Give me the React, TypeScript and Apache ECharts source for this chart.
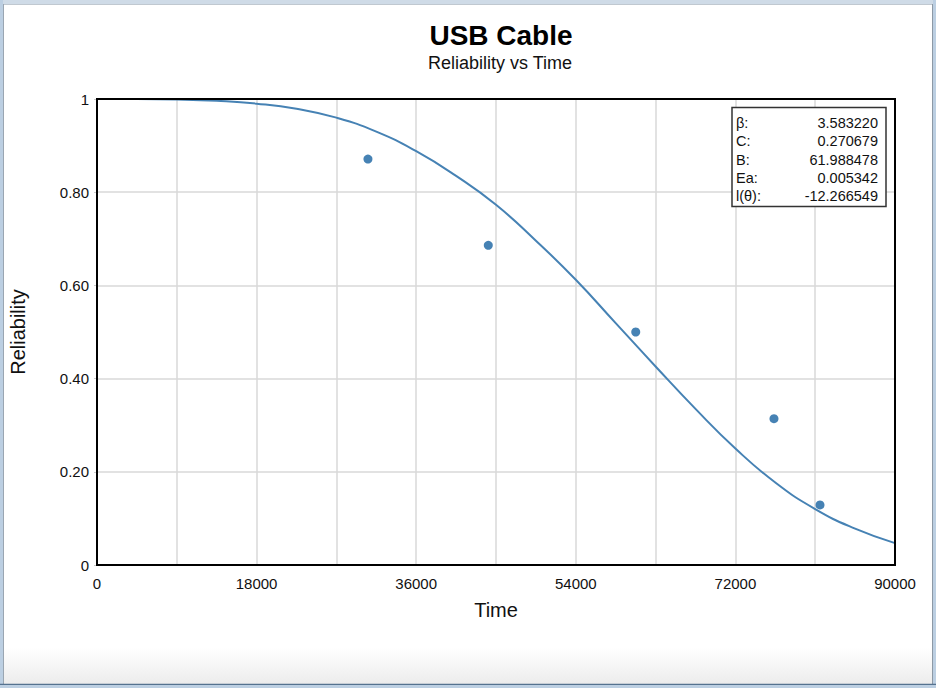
import React, { useEffect, useRef } from 'react';
import * as echarts from 'echarts';

// observed failure points (time, median-rank reliability)
const obsTimes = [30560, 44130, 60760, 76350, 81540];
const obsReliability = [0.871, 0.686, 0.5, 0.314, 0.129];

// fitted reliability curve
const curveTimes = [
  0, 4500, 9000, 13500, 18000, 22500, 27000, 31500, 36000, 40500, 45000,
  49500, 54000, 58500, 63000, 67500, 72000, 76500, 81000, 85500, 90000,
];
const curveReliability = [
  1.0, 1.0, 0.999, 0.996, 0.99, 0.979, 0.96, 0.93, 0.888, 0.835, 0.773,
  0.696, 0.612, 0.519, 0.426, 0.335, 0.25, 0.177, 0.12, 0.078, 0.047,
];

const xTickLabels = ['0', '', '18000', '', '36000', '', '54000', '', '72000', '', '90000'];
const yTickLabels = ['0', '0.20', '0.40', '0.60', '0.80', '1'];

const paramNames = ['β:', 'C:', 'B:', 'Ea:', 'l(θ):'];
const paramValues = ['3.583220', '0.270679', '61.988478', '0.005342', '-12.266549'];

const FONT = '"Liberation Sans", Arial, Helvetica, sans-serif';
const BLUE = '#4682b4';

const App: React.FC = () => {
  const chartRef = useRef<HTMLDivElement>(null);

  useEffect(() => {
    document.body.style.margin = '0';
    if (!chartRef.current) return;
    const chart = echarts.init(chartRef.current, undefined, { renderer: 'svg' });

    const rowY = [123, 141, 159.5, 177.5, 196];
    const legendItems: any[] = [
      {
        type: 'rect',
        shape: { x: 732, y: 107.5, width: 154, height: 99 },
        style: { fill: '#fff', stroke: '#333', lineWidth: 1.5 },
        z: 10,
      },
    ];
    paramNames.forEach((name, i) => {
      legendItems.push({
        type: 'text',
        x: 736,
        y: rowY[i],
        z: 11,
        style: { text: name, font: `14.5px ${FONT}`, fill: '#111', textAlign: 'left', textVerticalAlign: 'middle' },
      });
      legendItems.push({
        type: 'text',
        x: 878,
        y: rowY[i],
        z: 11,
        style: { text: paramValues[i], font: `14.5px ${FONT}`, fill: '#111', textAlign: 'right', textVerticalAlign: 'middle' },
      });
    });

    // black frame round the plot area (drawn over the grid lines)
    const frame: any = {
      type: 'rect',
      shape: { x: 97, y: 99, width: 798, height: 466 },
      style: { fill: 'none', stroke: '#000', lineWidth: 2 },
      z: 9,
      silent: true,
    };

    const chrome: any[] = [
      { type: 'rect', shape: { x: 0, y: 0, width: 936, height: 4 }, style: { fill: '#cfdbe7' }, silent: true },
      { type: 'line', shape: { x1: 0, y1: 4.5, x2: 936, y2: 4.5 }, style: { stroke: '#c0c8d0', lineWidth: 1 }, silent: true },
      { type: 'rect', shape: { x: 0, y: 0, width: 3, height: 688 }, style: { fill: '#bccfe2' }, silent: true },
      { type: 'line', shape: { x1: 3.5, y1: 4, x2: 3.5, y2: 684 }, style: { stroke: '#9aa6b2', lineWidth: 1 }, silent: true },
      { type: 'rect', shape: { x: 933, y: 0, width: 3, height: 688 }, style: { fill: '#bccfe2' }, silent: true },
      { type: 'line', shape: { x1: 932.5, y1: 4, x2: 932.5, y2: 684 }, style: { stroke: '#8d99a5', lineWidth: 1 }, silent: true },
      {
        type: 'rect',
        shape: { x: 4, y: 648, width: 928, height: 36 },
        style: {
          fill: new echarts.graphic.LinearGradient(0, 0, 0, 1, [
            { offset: 0, color: '#ffffff' },
            { offset: 1, color: '#ececec' },
          ]),
        },
        silent: true,
      },
      { type: 'line', shape: { x1: 0, y1: 684.5, x2: 936, y2: 684.5 }, style: { stroke: '#55728f', lineWidth: 1.5 }, silent: true },
      { type: 'rect', shape: { x: 0, y: 685, width: 936, height: 3 }, style: { fill: '#bccfe2' }, silent: true },
    ];

    chart.setOption({
      animation: false,
      backgroundColor: '#fff',
      textStyle: { fontFamily: FONT },
      title: [
        {
          text: 'USB Cable',
          left: 496,
          top: 16,
          textAlign: 'center',
          textStyle: { fontSize: 28, fontWeight: 'bold', color: '#000', fontFamily: FONT },
        },
        {
          text: 'Reliability vs Time',
          left: 495,
          top: 49,
          textAlign: 'center',
          textStyle: { fontSize: 18, fontWeight: 'normal', color: '#111', fontFamily: FONT },
        },
      ],
      grid: {
        left: 97,
        right: 41,
        top: 99,
        bottom: 123,
        show: false,
      },
      xAxis: {
        type: 'value',
        min: 0,
        max: 90000,
        interval: 9000,
        name: 'Time',
        nameLocation: 'middle',
        nameGap: 35,
        nameTextStyle: { fontSize: 20, color: '#111', fontFamily: FONT },
        axisLine: { show: true, lineStyle: { color: '#000', width: 2 } },
        axisTick: { show: false },
        axisLabel: {
          fontSize: 15,
          color: '#111',
          margin: 11,
          formatter: (_v: number, i: number) => xTickLabels[i] ?? '',
        },
        splitLine: { show: true, lineStyle: { color: '#d8d8d8', width: 1.5 } },
      },
      yAxis: {
        type: 'value',
        min: 0,
        max: 1,
        interval: 0.2,
        name: 'Reliability',
        nameLocation: 'middle',
        nameGap: 69,
        nameRotate: 90,
        nameTextStyle: { fontSize: 20, color: '#111', fontFamily: FONT },
        axisLine: { show: true, lineStyle: { color: '#000', width: 2 } },
        axisTick: { show: true, length: 3, lineStyle: { color: '#cccccc' } },
        axisLabel: {
          fontSize: 15,
          color: '#111',
          margin: 8,
          formatter: (_v: number, i: number) => yTickLabels[i] ?? '',
        },
        splitLine: { show: true, lineStyle: { color: '#d8d8d8', width: 1.5 } },
      },
      series: [
        {
          type: 'line',
          data: curveTimes.map((t, i) => [t, curveReliability[i]]),
          smooth: 0.5,
          showSymbol: false,
          lineStyle: { color: BLUE, width: 2 },
          itemStyle: { color: BLUE },
          z: 3,
        },
        {
          type: 'scatter',
          data: obsTimes.map((t, i) => [t, obsReliability[i]]),
          symbolSize: 9,
          itemStyle: { color: BLUE, opacity: 1 },
          z: 4,
        },
      ],
      graphic: [...chrome, frame, ...legendItems],
    });

    return () => {
      chart.dispose();
    };
  }, []);

  return <div ref={chartRef} style={{ width: '936px', height: '688px' }} />;
};

export default App;
